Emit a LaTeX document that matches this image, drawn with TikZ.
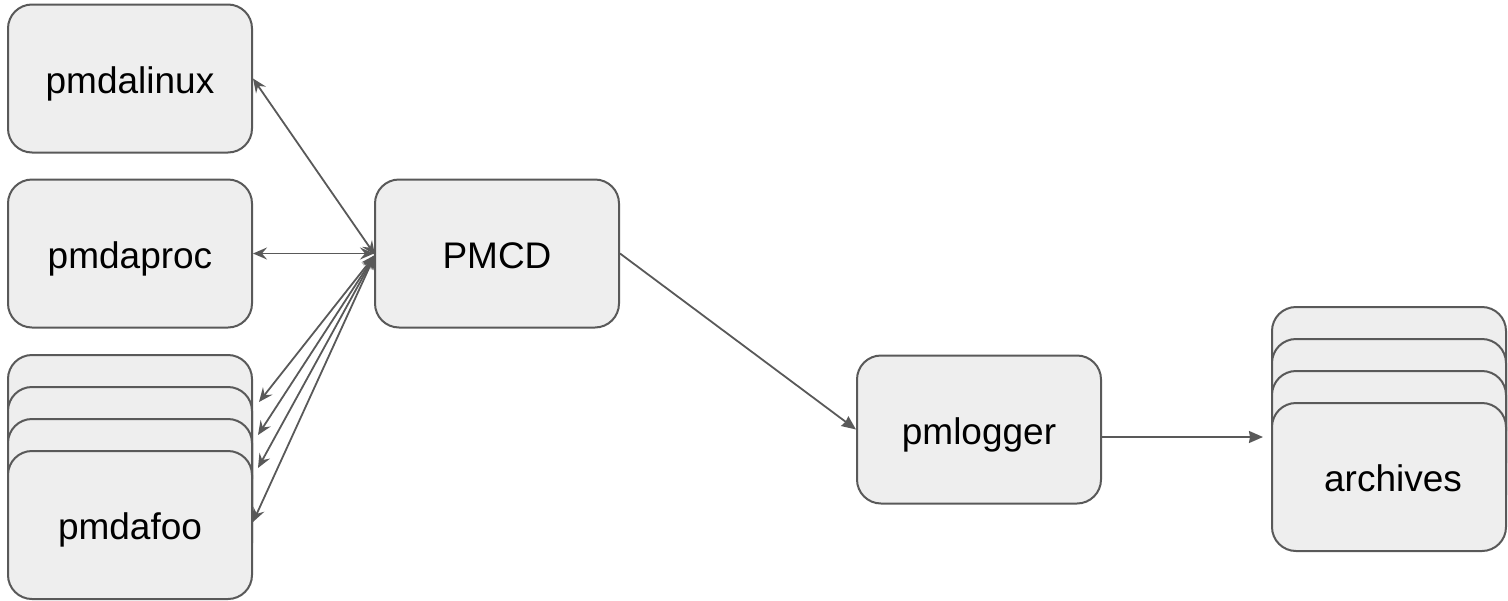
\documentclass[tikz,border=0pt]{standalone}
\usepackage{fontspec}
\setmainfont{Liberation Sans}
\usetikzlibrary{arrows.meta}
\definecolor{edge}{HTML}{595959}
\definecolor{boxfill}{HTML}{EEEEEE}
\begin{document}
\begin{tikzpicture}[x=1pt,y=-1pt,
  box/.style={draw=edge, fill=boxfill, line width=2pt, rounded corners=24pt,
    minimum width=244pt, minimum height=148pt, inner sep=0pt,
    text height=29pt, text depth=0pt,
    font=\fontsize{37}{40}\selectfont, text=black},
  link/.style={draw=edge, line width=1.8pt},
  dbl/.style={link, {Stealth[length=14pt,width=12pt,inset=5pt]}-{Stealth[length=14pt,width=12pt,inset=5pt]}},
  one/.style={link, -{Stealth[length=14pt,width=12pt,inset=1pt]}}]
\useasboundingbox (0,0) rectangle (1508,600);
\node[box] (linux) at (130,78.5) {pmdalinux};
\node[box] (proc) at (130,253.5) {pmdaproc};
\node[box] (pmcd) at (497,253.5) {PMCD};
\node[box] (foo1) at (130,429) {};
\node[box] (foo2) at (130,461) {};
\node[box] (foo3) at (130,493) {};
\node[box] (foo4) at (130,525) {pmdafoo};
\node[box] (logger) at (979,429.5) {pmlogger};
\node[box, minimum width=234pt] (arc1) at (1389,381) {};
\node[box, minimum width=234pt] (arc2) at (1389,413) {};
\node[box, minimum width=234pt] (arc3) at (1389,445) {};
\node[box, minimum width=234pt] (arc4) at (1389,477) {\hspace*{8pt}archives};
\coordinate (f1) at (259,402);
\coordinate (f2) at (258,435);
\coordinate (f3) at (258,468);
\coordinate (f4) at (253,522);
\coordinate (pin) at (375,255);
\coordinate (lgout) at (1101,437);
\coordinate (arcin) at (1263,437);
\draw[dbl] (linux.east) -- (pin);
\draw[dbl] (proc.east) -- (pmcd.west);
\draw[dbl] (f1) -- (pin);
\draw[dbl] (f2) -- (pin);
\draw[dbl] (f3) -- (pin);
\draw[dbl] (f4) -- (pin);
\draw[one] (pmcd.east) -- (logger.west);
\draw[one] (lgout) -- (arcin);
\end{tikzpicture}
\end{document}
